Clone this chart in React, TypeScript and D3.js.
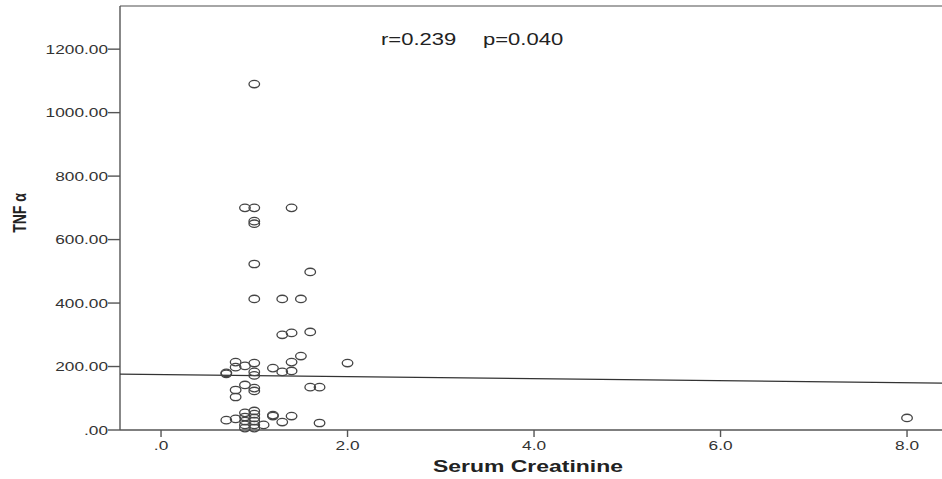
import * as d3 from "d3"

// serum creatinine (x) and TNF α (y)
const creatinine = [
  1.0, 0.9, 1.0, 1.4, 1.0, 1.0, 1.0, 1.6, 1.0, 1.3, 1.5, 1.3, 1.4, 1.6,
  0.7, 0.7, 0.8, 0.8, 0.9, 1.0, 1.0, 1.0, 1.2, 1.3, 1.4, 1.4, 1.5, 2.0,
  0.8, 0.8, 0.9, 1.0, 1.0, 1.6, 1.7,
  0.7, 0.8, 0.9, 0.9, 0.9, 0.9, 0.9, 1.0, 1.0, 1.0, 1.0, 1.0, 1.0,
  1.1, 1.2, 1.2, 1.3, 1.4, 1.7, 8.0,
]
const tnf = [
  1090, 700, 700, 700, 658, 650, 523, 498, 413, 413, 413, 300, 306, 309,
  180, 177, 198, 214, 202, 211, 183, 172, 195, 183, 214, 186, 233, 211,
  126, 104, 142, 132, 123, 135, 135,
  31, 35, 54, 41, 28, 16, 6, 60, 50, 38, 28, 16, 6,
  16, 44, 47, 25, 44, 22, 38,
]

const xTicks = [0, 2, 4, 6, 8]
const yTicks = [0, 200, 400, 600, 800, 1000, 1200]
// fit line end values at the left and right edges of the frame
const fitX = [-0.44, 8.375]
const fitY = [176, 148]
const stats = ["r=0.239", "p=0.040"]

const W = 942
const H = 479
const m = { top: 6, right: 0, bottom: 49, left: 120 }
const sx = 1.35 // the original picture is stretched horizontally

export default function App() {
  const x = d3.scaleLinear([-0.44, 8.375], [m.left, W - m.right])
  const y = d3.scaleLinear([0, 1336], [H - m.bottom, m.top])
  const pts = creatinine.map((c, i) => ({ c, v: tnf[i] }))
  const line = d3.line<number>()
    .x((d) => x(d))
    .y((_, i) => y(fitY[i]))
  const axisColor = "#555"
  const font = "'Liberation Sans', Arial, sans-serif"

  return (
    <svg
      width={W}
      height={H}
      style={{ position: "absolute", left: 0, top: 0, background: "#fff" }}
      fontFamily={font}
    >
      {/* frame */}
      <line x1={m.left} x2={W} y1={m.top} y2={m.top} stroke="#888" strokeWidth={1.3} />
      <line x1={m.left} x2={m.left} y1={m.top} y2={y(0)} stroke={axisColor} strokeWidth={1.4} />
      <line x1={m.left} x2={W} y1={y(0)} y2={y(0)} stroke={axisColor} strokeWidth={1.4} />

      {yTicks.map((t) => (
        <g key={t}>
          <line x1={m.left - 12} x2={m.left} y1={y(t)} y2={y(t)} stroke={axisColor} strokeWidth={1.4} />
          <text
            transform={`translate(${m.left - 12},${y(t) + 4.5}) scale(${sx},1)`}
            textAnchor="end"
            fontSize={12.8}
            fill="#333"
          >
            {t === 0 ? ".00" : t.toFixed(2)}
          </text>
        </g>
      ))}

      {xTicks.map((t) => (
        <g key={t}>
          <line x1={x(t)} x2={x(t)} y1={y(0)} y2={y(0) + 7} stroke={axisColor} strokeWidth={1.4} />
          <text
            transform={`translate(${x(t)},${y(0) + 19.5}) scale(${sx},1)`}
            textAnchor="middle"
            fontSize={12.8}
            fill="#333"
          >
            {t === 0 ? ".0" : t.toFixed(1)}
          </text>
        </g>
      ))}

      <path d={line(fitX) ?? ""} fill="none" stroke="#333" strokeWidth={1.2} />

      {pts.map((p, i) => (
        <ellipse
          key={i}
          cx={x(p.c)}
          cy={y(p.v)}
          rx={5.3}
          ry={3.7}
          fill="none"
          stroke="#444"
          strokeWidth={1.3}
        />
      ))}

      <text transform={`translate(381,45) scale(${sx},1)`} fontSize={16.3} fill="#222">
        {stats[0]}
      </text>
      <text transform={`translate(483,45) scale(${sx},1)`} fontSize={16.3} fill="#222">
        {stats[1]}
      </text>

      <text
        transform={`translate(${(m.left + W) / 2 - 3},472) scale(${sx},1)`}
        textAnchor="middle"
        fontSize={17}
        fontWeight="bold"
        fill="#222"
      >
        Serum Creatinine
      </text>
      <text
        transform={`translate(26,213) scale(${sx},1) rotate(-90)`}
        textAnchor="middle"
        fontSize={14}
        fontWeight="bold"
        fill="#222"
      >
        TNF α
      </text>
    </svg>
  )
}
